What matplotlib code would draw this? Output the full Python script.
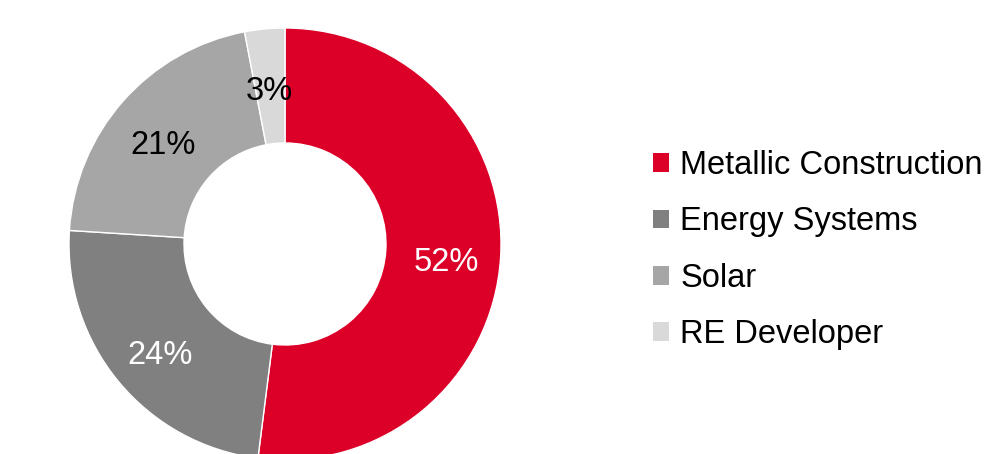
import matplotlib
matplotlib.use("Agg")
import matplotlib.pyplot as plt
from matplotlib.patches import Patch
from matplotlib.transforms import offset_copy

plt.rcParams['font.family'] = ['Liberation Sans', 'DejaVu Sans']

categories = ["Metallic Construction", "Energy Systems", "Solar", "RE Developer"]
values = [52, 24, 21, 3]
colors = ["#DC0028", "#808080", "#A6A6A6", "#D9D9D9"]
label_colors = ["white", "white", "black", "black"]

W, H = 1007, 454
fig = plt.figure(figsize=(W / 100, H / 100), dpi=100)
cx, cy, R = 285, 244, 216
ax = fig.add_axes([(cx - R) / W, (H - cy - R) / H, 2 * R / W, 2 * R / H])

wedges, texts, autotexts = ax.pie(
    values, colors=colors, startangle=90, counterclock=False, radius=1,
    autopct='%d%%', pctdistance=0.75,
    wedgeprops=dict(width=1 - 101 / 216, edgecolor='white', linewidth=1),
    textprops=dict(fontsize=23.5))
ax.set_xlim(-1, 1)
ax.set_ylim(-1, 1)
ax.set_aspect('equal')
ax.axis('off')
shift = offset_copy(ax.transData, fig=fig, x=0, y=-5, units='dots')
for t, c in zip(autotexts, label_colors):
    t.set_color(c)
    t.set_va('center_baseline')
    t.set_transform(shift)

handles = [Patch(facecolor=c, edgecolor='none') for c in colors]
fig.legend(handles, categories, loc='upper left',
           bbox_to_anchor=(653 / W, 1 - 150 / H), frameon=False,
           fontsize=23.5, handlelength=0.48, handleheight=0.5,
           handletextpad=0.36, labelspacing=0.78, borderaxespad=0,
           borderpad=0)

fig.savefig("out.png", dpi=100)
